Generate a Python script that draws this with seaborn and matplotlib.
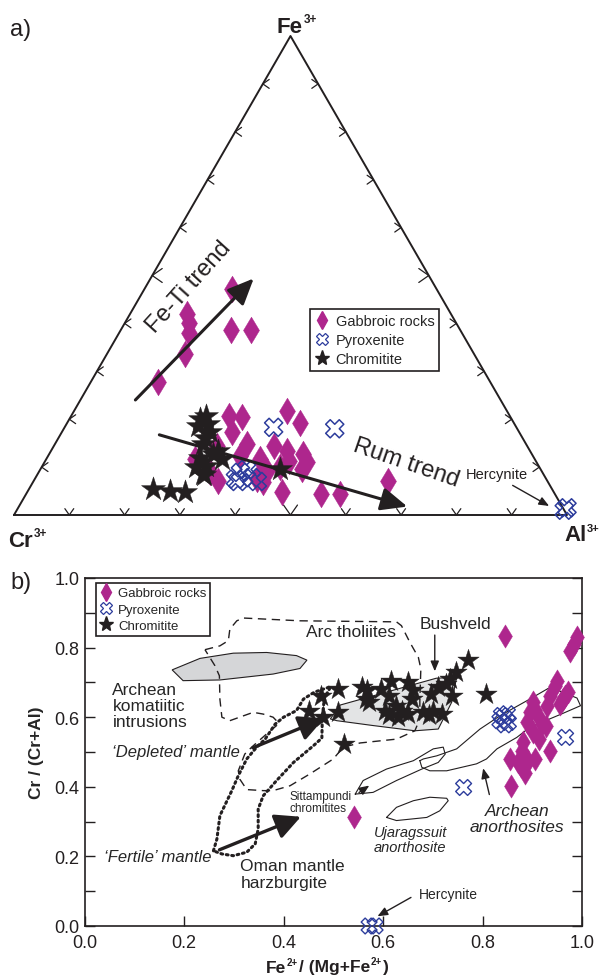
import numpy as np
import pandas as pd
import matplotlib
matplotlib.use("Agg")
import matplotlib.pyplot as plt
import matplotlib.text as mtext
import seaborn as sns
from matplotlib.lines import Line2D

# ---------------- panel a : ternary Cr3+ - Al3+ - Fe3+ (fractions) ----------------
gab_a_fe = [0.471, 0.420, 0.400, 0.379, 0.386, 0.386, 0.337, 0.277,
            0.218, 0.193, 0.207, 0.204, 0.173, 0.148, 0.124, 0.134, 0.127, 0.110,
            0.096, 0.113, 0.117, 0.092, 0.075, 0.068, 0.047, 0.044, 0.044, 0.072,
            0.072, 0.117, 0.089, 0.145, 0.100, 0.145]
gab_a_al = [0.158, 0.102, 0.116, 0.127, 0.200, 0.235, 0.141, 0.122,
            0.384, 0.421, 0.285, 0.310, 0.308, 0.347, 0.347, 0.426, 0.460, 0.474,
            0.472, 0.440, 0.387, 0.411, 0.402, 0.417, 0.461, 0.534, 0.568, 0.641,
            0.333, 0.269, 0.310, 0.295, 0.431, 0.397]
pyx_a_fe = [0.183, 0.180, 0.089, 0.075, 0.078, 0.095, 0.070, 0.070, 0.015, 0.010]
pyx_a_al = [0.378, 0.490, 0.365, 0.363, 0.391, 0.373, 0.370, 0.405, 0.9925, 0.990]
chr_a_fe = [0.054, 0.051, 0.047, 0.200, 0.207, 0.186, 0.173, 0.148, 0.134, 0.127,
            0.120, 0.103, 0.086, 0.117, 0.096, 0.160, 0.100, 0.083, 0.190]
chr_a_al = [0.225, 0.2565, 0.2855, 0.236, 0.2445, 0.240, 0.2675, 0.268, 0.302, 0.2965,
            0.276, 0.2965, 0.299, 0.3175, 0.433, 0.265, 0.280, 0.3025, 0.255]

# trend arrows (fe, al) start -> end
feti_fe = [0.236, 0.498]
feti_al = [0.098, 0.188]
rum_fe = [0.169, 0.016]
rum_al = [0.1735, 0.708]
herc_a_fe = [0.0647, 0.016]
herc_a_al = [0.865, 0.964]
tern_ticks = [0.1, 0.2, 0.3, 0.4, 0.5, 0.6, 0.7, 0.8, 0.9]

# ---------------- panel b : Cr# vs Fe# ----------------
gab_b_x = [0.845, 0.541, 0.989, 0.983, 0.976, 0.949, 0.946, 0.972, 0.962, 0.956,
           0.936, 0.929, 0.902, 0.895, 0.912, 0.919, 0.889, 0.902, 0.882, 0.879,
           0.936, 0.855, 0.872, 0.892, 0.858, 0.886, 0.878, 0.905, 0.913, 0.928,
           0.905, 0.965]
gab_b_y = [0.832, 0.312, 0.830, 0.810, 0.791, 0.705, 0.690, 0.672, 0.652, 0.638,
           0.662, 0.633, 0.643, 0.614, 0.604, 0.580, 0.585, 0.557, 0.528, 0.504,
           0.504, 0.480, 0.470, 0.475, 0.403, 0.441, 0.461, 0.480, 0.537, 0.576,
           0.620, 0.660]
pyx_b_x = [0.843, 0.835, 0.850, 0.845, 0.838, 0.852, 0.967, 0.762, 0.572, 0.584]
pyx_b_y = [0.600, 0.590, 0.610, 0.578, 0.605, 0.585, 0.542, 0.398, 0.000, 0.000]
chr_b_x = [0.770, 0.746, 0.735, 0.727, 0.711, 0.739, 0.696, 0.808, 0.615, 0.650,
           0.661, 0.557, 0.568, 0.595, 0.510, 0.476, 0.452, 0.510, 0.480, 0.522,
           0.565, 0.611, 0.627, 0.603, 0.638, 0.611, 0.650, 0.630, 0.681, 0.693,
           0.719, 0.700, 0.572, 0.658]
chr_b_y = [0.763, 0.729, 0.710, 0.696, 0.686, 0.662, 0.667, 0.667, 0.705, 0.701,
           0.677, 0.686, 0.677, 0.681, 0.681, 0.662, 0.619, 0.614, 0.600, 0.523,
           0.653, 0.662, 0.633, 0.619, 0.619, 0.605, 0.609, 0.600, 0.614, 0.605,
           0.609, 0.619, 0.643, 0.652]

komat_x = [0.176, 0.198, 0.272, 0.379, 0.433, 0.447, 0.426, 0.366, 0.299, 0.232]
komat_y = [0.736, 0.705, 0.707, 0.724, 0.740, 0.764, 0.777, 0.786, 0.784, 0.769]
bush_x = [0.494, 0.514, 0.707, 0.748, 0.738, 0.711, 0.664, 0.580, 0.507]
bush_y = [0.595, 0.635, 0.712, 0.715, 0.643, 0.566, 0.561, 0.576, 0.590]
arc_x = [0.242, 0.272, 0.289, 0.292, 0.306, 0.319, 0.433, 0.627, 0.637, 0.654, 0.671,
         0.676, 0.674, 0.674, 0.664, 0.627, 0.554, 0.520, 0.500, 0.453, 0.413, 0.379,
         0.359, 0.326, 0.312, 0.309, 0.322, 0.336, 0.366, 0.386, 0.389, 0.379, 0.359,
         0.339, 0.292, 0.276, 0.272, 0.271, 0.262, 0.242]
arc_y = [0.794, 0.805, 0.820, 0.853, 0.877, 0.885, 0.877, 0.874, 0.863, 0.815, 0.772,
         0.739, 0.652, 0.595, 0.561, 0.537, 0.526, 0.514, 0.480, 0.437, 0.403, 0.389,
         0.389, 0.392, 0.422, 0.446, 0.494, 0.514, 0.552, 0.576, 0.585, 0.600, 0.609,
         0.614, 0.590, 0.600, 0.652, 0.719, 0.748, 0.794]
oman_x = [0.259, 0.266, 0.272, 0.296, 0.309, 0.326, 0.346, 0.363, 0.383, 0.400, 0.426,
          0.440, 0.462, 0.495, 0.482, 0.478, 0.477, 0.460, 0.420, 0.386, 0.359, 0.349,
          0.349, 0.343, 0.326, 0.299, 0.276, 0.259]
oman_y = [0.216, 0.250, 0.317, 0.389, 0.432, 0.480, 0.514, 0.537, 0.580, 0.600, 0.619,
          0.652, 0.672, 0.688, 0.655, 0.600, 0.540, 0.518, 0.470, 0.418, 0.374, 0.336,
          0.279, 0.236, 0.212, 0.202, 0.207, 0.216]
sitt_x = [0.544, 0.560, 0.607, 0.661, 0.701, 0.721, 0.725, 0.711, 0.678, 0.627, 0.580, 0.544]
sitt_y = [0.379, 0.418, 0.451, 0.475, 0.509, 0.514, 0.494, 0.470, 0.451, 0.418, 0.384, 0.379]
anor_x = [0.674, 0.678, 0.694, 0.728, 0.788, 0.808, 0.829, 0.869, 0.895, 0.960, 0.997,
          0.990, 0.936, 0.895, 0.835, 0.795, 0.748, 0.708, 0.681, 0.674]
anor_y = [0.475, 0.456, 0.446, 0.446, 0.466, 0.480, 0.509, 0.542, 0.571, 0.610, 0.633,
          0.655, 0.686, 0.652, 0.604, 0.566, 0.509, 0.489, 0.480, 0.475]
ujar_x = [0.607, 0.627, 0.688, 0.714, 0.731, 0.728, 0.694, 0.661, 0.627, 0.607]
ujar_y = [0.312, 0.303, 0.312, 0.331, 0.360, 0.367, 0.370, 0.360, 0.341, 0.312]

x_ticks = [0.0, 0.2, 0.4, 0.6, 0.8, 1.0]
y_ticks = [0.0, 0.2, 0.4, 0.6, 0.8, 1.0]

# ---------------- style ----------------
sns.set_style("ticks")
plt.rcParams["font.family"] = ["Liberation Sans", "DejaVu Sans"]

MAG = "#ae268d"
BLU = "#2c3c9c"
BLK = "#231f20"
GREY = "#d5d6d8"

fig = plt.figure(figsize=(6.03, 9.79), dpi=100)


def chain_text(parts, x_px, y_px, size, supsize):
    """Write bold text pieces one after another; raised pieces are small superscripts."""
    prev = fig.text(x_px / 603, 1 - y_px / 979, parts[0][0], fontsize=size, fontweight="bold",
                    ha="left", va="baseline", color=BLK)
    for txt, raised in parts[1:]:
        if raised:
            ann = mtext.Annotation(txt, xy=(1.0, 0.55), xycoords=prev, xytext=(0.6, 0),
                                   textcoords="offset points", fontsize=supsize,
                                   fontweight="bold", ha="left", va="bottom", color=BLK)
        else:
            ann = mtext.Annotation(txt, xy=(1.0, 0.0), xycoords=prev, xytext=(0.5, -0.44 * size),
                                   textcoords="offset points", fontsize=size,
                                   fontweight="bold", ha="left", va="bottom", color=BLK)
        fig.add_artist(ann)
        prev = ann


# ---------------- panel a ----------------
H = np.sqrt(3) / 2
ax1 = fig.add_axes([14 / 603, 1 - 516 / 979, 553 / 603, 479 / 979])
ax1.set_xlim(0, 1)
ax1.set_ylim(0, H)
ax1.axis("off")


def tern(fe, al):
    fe = np.asarray(fe, float)
    al = np.asarray(al, float)
    return al + fe / 2, fe * H


ax1.plot([0, 1, 0.5, 0], [0, 0, H, 0], color=BLK, lw=1.4, clip_on=False)
ang = np.deg2rad(35)
for t in tern_ticks:
    L = 0.022 if abs(t - 0.5) < 1e-9 else 0.014
    ax1.plot([t - L * np.sin(ang), t, t + L * np.sin(ang)],
             [L * np.cos(ang), 0, L * np.cos(ang)], color=BLK, lw=0.9, clip_on=False)
    px, py = t / 2, t * H
    ax1.plot([px + L * np.cos(ang), px, px + L * np.cos(ang)],
             [py + L * np.sin(ang), py, py - L * np.sin(ang)], color=BLK, lw=0.9, clip_on=False)
    px, py = 1 - t / 2, t * H
    ax1.plot([px - L * np.cos(ang), px, px - L * np.cos(ang)],
             [py + L * np.sin(ang), py, py - L * np.sin(ang)], color=BLK, lw=0.9, clip_on=False)

gx, gy = tern(gab_a_fe, gab_a_al)
sns.scatterplot(x=gx, y=gy, marker="d", s=185, color=MAG, edgecolor=MAG, linewidth=0.3,
                ax=ax1, clip_on=False, zorder=3)
cx, cy = tern(chr_a_fe, chr_a_al)
sns.scatterplot(x=cx, y=cy, marker="*", s=330, color=BLK, edgecolor=BLK, linewidth=0.3,
                ax=ax1, clip_on=False, zorder=4)
px_, py_ = tern(pyx_a_fe, pyx_a_al)
sns.scatterplot(x=px_, y=py_, marker="X", s=170, color=BLU, facecolor="none", edgecolor=BLU,
                linewidth=1.1, ax=ax1, clip_on=False, zorder=5)

for fe, al in [(feti_fe, feti_al), (rum_fe, rum_al)]:
    xs, ys = tern(fe, al)
    ax1.annotate("", xy=(xs[1], ys[1]), xytext=(xs[0], ys[0]),
                 arrowprops=dict(arrowstyle="-|>,head_length=0.8,head_width=0.35",
                                 mutation_scale=20, lw=2.2, color=BLK), zorder=6)
xs, ys = tern(herc_a_fe, herc_a_al)
ax1.annotate("", xy=(xs[1], ys[1]), xytext=(xs[0], ys[0]),
             arrowprops=dict(arrowstyle="-|>,head_length=0.6,head_width=0.25",
                             mutation_scale=10, lw=1.0, color=BLK), zorder=6)
tx, ty = tern([0.0856], [0.830])
ax1.text(tx[0], ty[0], "Hercynite", fontsize=10.5, ha="center", va="center", color=BLK)
tx, ty = tern([0.478], [0.077])
ax1.text(tx[0], ty[0], "Fe-Ti trend", fontsize=17, ha="center", va="center", rotation=48, color=BLK)
tx, ty = tern([0.111], [0.6535])
ax1.text(tx[0], ty[0], "Rum trend", fontsize=17, ha="center", va="center", rotation=-19, color=BLK)

chain_text([("Fe", False), ("3+", True)], 277, 33, 16, 8.5)
chain_text([("Cr", False), ("3+", True)], 8, 547, 16, 8.5)
chain_text([("Al", False), ("3+", True)], 564, 541, 16, 8.0)
fig.text(10 / 603, 1 - 30 / 979, "a)", fontsize=17, ha="left", va="center", color=BLK)
fig.text(10 / 603, 1 - 583 / 979, "b)", fontsize=17, ha="left", va="center", color=BLK)


def handles():
    return [Line2D([], [], ls="none", marker="d", ms=9, color=MAG, mec=MAG),
            Line2D([], [], ls="none", marker="X", ms=8, mfc="none", mec=BLU, mew=0.9),
            Line2D([], [], ls="none", marker="*", ms=11, color=BLK)]


labels = ["Gabbroic rocks", "Pyroxenite", "Chromitite"]
leg1 = fig.legend(handles(), labels, loc="upper left", bbox_to_anchor=(310 / 603, 1 - 310 / 979),
                  fontsize=10.5, frameon=True, fancybox=False, edgecolor=BLK, framealpha=1,
                  handlelength=1.0, handletextpad=0.4, borderpad=0.35, labelspacing=0.35,
                  borderaxespad=0)
leg1.get_frame().set_linewidth(1.2)

# ---------------- panel b ----------------
ax2 = fig.add_axes([84.6 / 603, 1 - 927 / 979, 497.4 / 603, 348 / 979])
ax2.set_xlim(0, 1)
ax2.set_ylim(0, 1)

ax2.fill(komat_x, komat_y, facecolor=GREY, edgecolor=BLK, lw=0.8, zorder=1)
ax2.fill(bush_x, bush_y, facecolor="#e3e4e5", edgecolor=BLK, lw=0.8, zorder=1)
ax2.plot(arc_x, arc_y, color=BLK, lw=1.0, ls=(0, (6, 4)), zorder=2)
ax2.plot(oman_x, oman_y, color=BLK, lw=2.2, ls=(0, (0.6, 1.2)), dash_capstyle="round", zorder=2)
ax2.plot(sitt_x, sitt_y, color=BLK, lw=0.8, zorder=2)
ax2.plot(anor_x, anor_y, color=BLK, lw=0.8, zorder=2)
ax2.plot(ujar_x, ujar_y, color=BLK, lw=0.8, zorder=2)

sns.scatterplot(x=gab_b_x, y=gab_b_y, marker="d", s=140, color=MAG, edgecolor=MAG, linewidth=0.3,
                ax=ax2, clip_on=False, zorder=3)
sns.scatterplot(x=chr_b_x, y=chr_b_y, marker="*", s=260, color=BLK, edgecolor=BLK, linewidth=0.3,
                ax=ax2, clip_on=False, zorder=4)
sns.scatterplot(x=pyx_b_x, y=pyx_b_y, marker="X", s=130, color=BLU, facecolor="none", edgecolor=BLU,
                linewidth=1.0, ax=ax2, clip_on=False, zorder=5)

big = dict(arrowstyle="-|>,head_length=0.7,head_width=0.35", mutation_scale=22, lw=2.4, color=BLK)
small = dict(arrowstyle="-|>,head_length=0.6,head_width=0.25", mutation_scale=10, lw=1.0, color=BLK)
ax2.annotate("", xy=(0.487, 0.600), xytext=(0.333, 0.509), arrowprops=big, zorder=6)
ax2.annotate("", xy=(0.440, 0.317), xytext=(0.266, 0.216), arrowprops=big, zorder=6)
ax2.annotate("", xy=(0.704, 0.724), xytext=(0.704, 0.844), arrowprops=small, zorder=6)
ax2.annotate("", xy=(0.577, 0.408), xytext=(0.547, 0.379), arrowprops=small, zorder=6)
ax2.annotate("", xy=(0.800, 0.461), xytext=(0.815, 0.370), arrowprops=small, zorder=6)
ax2.annotate("", xy=(0.584, 0.024), xytext=(0.661, 0.086), arrowprops=small, zorder=6)

ax2.text(0.535, 0.846, "Arc tholiites", fontsize=12.5, ha="center", va="center")
ax2.text(0.745, 0.868, "Bushveld", fontsize=12.5, ha="center", va="center")
ax2.text(0.056, 0.634, "Archean\nkomatiitic\nintrusions", fontsize=12.5, ha="left", va="center",
         linespacing=1.1)
ax2.text(0.313, 0.501, "\u2018Depleted\u2019 mantle", fontsize=12, ha="right", va="center", style="italic")
ax2.text(0.255, 0.199, "\u2018Fertile\u2019 mantle", fontsize=12, ha="right", va="center", style="italic")
ax2.text(0.313, 0.149, "Oman mantle\nharzburgite", fontsize=12.5, ha="left", va="center", linespacing=1.15)
ax2.text(0.411, 0.357, "Sittampundi\nchromitites", fontsize=8.5, ha="left", va="center", linespacing=1.05)
ax2.text(0.655, 0.248, "Ujaragssuit\nanorthosite", fontsize=10.5, ha="center", va="center",
         style="italic", linespacing=1.05)
ax2.text(0.870, 0.308, "Archean\nanorthosites", fontsize=12.5, ha="center", va="center",
         style="italic", linespacing=1.1)
ax2.text(0.731, 0.091, "Hercynite", fontsize=10, ha="center", va="center")

ax2.set_xticks(x_ticks)
ax2.set_yticks(y_ticks)
ax2.set_xticklabels([f"{v:.1f}" for v in x_ticks])
ax2.set_yticklabels([f"{v:.1f}" for v in y_ticks])
ax2.set_yticks(np.arange(0.1, 1.0, 0.2), minor=True)
ax2.tick_params(axis="both", which="both", direction="in", length=7, width=1.0, colors=BLK,
                labelsize=13, labelcolor=BLK)
ax2.tick_params(axis="y", which="both", right=True)
ax2.tick_params(axis="x", which="major", top=False, pad=6)
for sp in ax2.spines.values():
    sp.set_linewidth(1.2)
    sp.set_color(BLK)
    sp.set_visible(True)
ax2.set_ylabel("Cr / (Cr+Al)", fontsize=12.5, fontweight="bold", labelpad=8)

# x label built from pieces so the superscripts stay small
chain_text([("Fe", False), ("2+", True), ("/ (Mg+Fe", False), ("2+", True), (")", False)],
           266, 973, 12.5, 7)

leg2 = ax2.legend(handles(), labels, loc="upper left", bbox_to_anchor=(0.022, 0.985),
                  fontsize=9.5, frameon=True, fancybox=False, edgecolor=BLK, framealpha=1,
                  handlelength=1.0, handletextpad=0.4, borderpad=0.3, labelspacing=0.3,
                  borderaxespad=0)
leg2.get_frame().set_linewidth(1.2)
leg2.set_zorder(10)

fig.savefig("out.png", dpi=100)
